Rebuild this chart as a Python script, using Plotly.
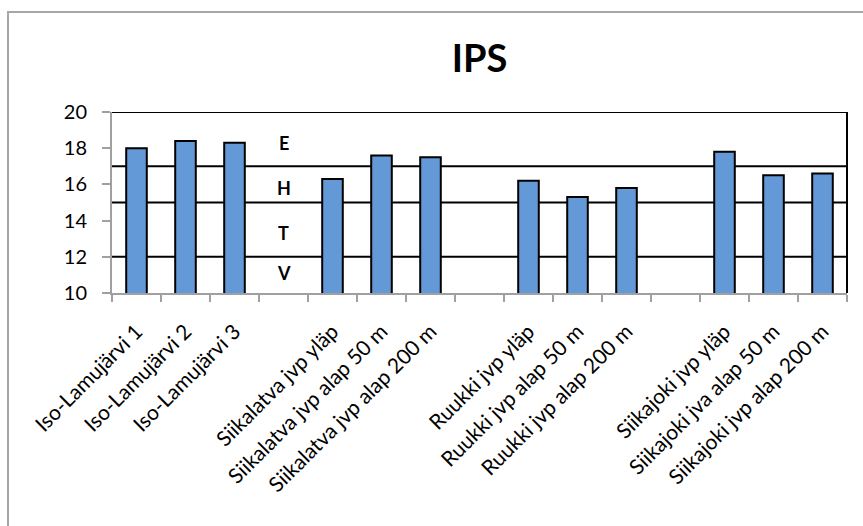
import plotly.graph_objects as go

# IPS diatom index per sampling site (blank entries separate the river groups)
sites = [
    "Iso-Lamujärvi 1", "Iso-Lamujärvi 2", "Iso-Lamujärvi 3", " ",
    "Siikalatva jvp yläp", "Siikalatva jvp alap 50 m", "Siikalatva jvp alap 200 m", "  ",
    "Ruukki jvp yläp", "Ruukki jvp alap 50 m", "Ruukki jvp alap 200 m", "   ",
    "Siikajoki jvp yläp", "Siikajoki jva alap 50 m", "Siikajoki jvp alap 200 m",
]
ips = [18.0, 18.4, 18.3, None,
       16.3, 17.6, 17.5, None,
       16.2, 15.3, 15.8, None,
       17.8, 16.5, 16.6]

# Quality class boundaries and class letters
class_limits = [12, 15, 17, 20]
class_letters = ["E", "H", "T", "V"]
class_letter_y = [18.3, 15.8, 13.3, 11.1]
letter_site = " "

y_ticks = [10, 12, 14, 16, 18, 20]

FONT = "Lato, 'Open Sans', sans-serif"

fig = go.Figure(
    go.Bar(
        x=sites,
        y=ips,
        marker=dict(color="#6399d6", line=dict(color="black", width=2)),
        width=0.42,
    )
)

shapes = []
for lim in class_limits:
    shapes.append(dict(type="line", xref="paper", yref="y", x0=0, x1=1, y0=lim, y1=lim,
                       line=dict(color="black", width=2), layer="below"))
# right edge of the plot frame
shapes.append(dict(type="line", xref="paper", yref="y", x0=1, x1=1, y0=10, y1=20,
                   line=dict(color="black", width=2), layer="below"))
# outer chart border
shapes.append(dict(type="rect", xref="paper", yref="paper", x0=-0.1415, x1=1.2, y0=-2.0, y1=1.552,
                   line=dict(color="#a6a6a6", width=2), fillcolor="rgba(0,0,0,0)", layer="below"))

annotations = [
    dict(x=letter_site, y=yy, xref="x", yref="y", text=f"<b>{t}</b>", showarrow=False,
         font=dict(family=FONT, size=18, color="black"))
    for t, yy in zip(class_letters, class_letter_y)
]

fig.update_layout(
    width=863,
    height=526,
    margin=dict(l=112, r=16, t=112, b=233),
    paper_bgcolor="white",
    plot_bgcolor="white",
    showlegend=False,
    title=dict(text="<b>IPS</b>", x=0.5, xanchor="center", xref="paper", y=0.888, yanchor="middle",
               font=dict(family=FONT, size=38, color="black")),
    shapes=shapes,
    annotations=annotations,
    xaxis=dict(
        type="category",
        categoryorder="array",
        categoryarray=sites,
        tickson="boundaries",
        ticks="outside",
        ticklen=7,
        tickcolor="#a0a0a0",
        tickwidth=2,
        ticklabelstandoff=16,
        showline=True,
        linecolor="#a0a0a0",
        linewidth=2,
        showgrid=False,
        tickangle=-45,
        tickfont=dict(family=FONT, size=21, color="black"),
    ),
    yaxis=dict(
        range=[10, 20],
        tickvals=y_ticks,
        ticks="outside",
        ticklen=8,
        tickcolor="#a0a0a0",
        tickwidth=2,
        ticklabelstandoff=11,
        showline=True,
        linecolor="#a0a0a0",
        linewidth=2,
        showgrid=False,
        zeroline=False,
        tickfont=dict(family=FONT, size=20, color="black"),
    ),
)

fig.write_html("out.html")
